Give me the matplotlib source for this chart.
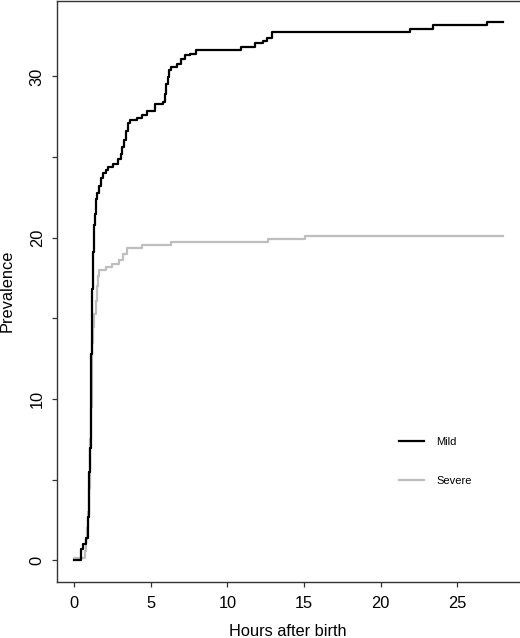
import matplotlib
matplotlib.use("Agg")
import matplotlib.pyplot as plt

plt.rcParams['font.family'] = ['Liberation Sans', 'DejaVu Sans']

# Mild prevalence step curve (hours after birth, prevalence)
mild_t = [0, 0.47, 0.59, 0.76, 0.91, 0.95, 0.99, 1.03, 1.07, 1.09, 1.11,
          1.13, 1.15, 1.17, 1.19, 1.22, 1.25, 1.28, 1.32, 1.36, 1.40, 1.45,
          1.52, 1.60, 1.74, 1.90, 2.10, 2.22,
          2.54, 2.87, 3.05, 3.15, 3.26, 3.37, 3.48, 3.63, 4.07, 4.40, 4.72,
          5.26, 5.80, 5.92, 6.00, 6.09, 6.20, 6.30, 6.68, 7.00, 7.22, 7.55,
          7.98, 10.9, 11.8, 12.3, 12.6, 12.9, 21.94, 23.4, 26.94, 28.0]
mild_v = [0, 0.7, 1.03, 1.39, 2.72, 4.0, 5.5, 7.0, 8.7, 10.0, 11.4,
          12.8, 14.2, 15.6, 16.8, 18.0, 19.1, 20.0, 20.8, 21.5, 22.0, 22.4,
          22.8, 23.2, 23.7, 24.0, 24.2, 24.4,
          24.6, 24.9, 25.2, 25.6, 26.05, 26.6, 27.1, 27.3, 27.45, 27.6, 27.85,
          28.26, 28.4, 28.9, 29.5, 29.97, 30.4, 30.6, 30.8, 31.07, 31.3, 31.42,
          31.62, 31.83, 32.05, 32.2, 32.4, 32.75, 32.96, 33.2, 33.37, 33.37]

# Severe prevalence step curve
severe_t = [0, 0.02, 0.70, 0.74, 0.85, 0.93, 0.98, 1.02, 1.06, 1.10, 1.14,
            1.18, 1.22, 1.30, 1.42, 1.48, 1.55, 1.63, 2.10, 2.44, 2.94, 3.20,
            3.42, 4.40, 6.35, 12.65, 15.05, 28.0]
severe_v = [0, 0.15, 0.6, 1.3, 2.0, 3.0, 4.5, 6.0, 7.5, 9.5, 11.5,
            13.5, 14.5, 15.3, 16.1, 17.0, 17.6, 18.0, 18.2, 18.4, 18.6, 19.0,
            19.35, 19.55, 19.75, 19.9, 20.1, 20.1]

series_labels = ["Mild", "Severe"]
series_colors = ["#000000", "#BEBEBE"]

x_ticks = [0, 5, 10, 15, 20, 25]
y_ticks = [0, 5, 10, 15, 20, 25, 30]
y_tick_labels = ["0", "", "10", "", "20", "", "30"]

W, H = 520, 638
fig = plt.figure(figsize=(W / 100, H / 100), dpi=100)
ax = fig.add_axes([57 / W, 1 - 582 / H, (520.5 - 57) / W, (582 - 0.5) / H])

ax.step(severe_t, severe_v, where='post', color=series_colors[1], lw=1.6,
        label=series_labels[1], zorder=2)
ax.step(mild_t, mild_v, where='post', color=series_colors[0], lw=1.6,
        label=series_labels[0], zorder=3)

xmax = max(mild_t)
ymax = max(mild_v)
ax.set_xlim(-0.04 * xmax, xmax * 1.04)
ax.set_ylim(-0.04 * ymax, ymax * 1.04)

ax.set_xticks(x_ticks)
ax.set_xticklabels([str(v) for v in x_ticks])
ax.set_yticks(y_ticks)
ax.set_yticklabels(y_tick_labels, rotation=90, va='center')

ax.tick_params(axis='both', direction='out', length=3.8, width=0.9,
               color='#333333', labelsize=11.8)
ax.tick_params(axis='x', pad=6)
ax.tick_params(axis='y', pad=5)

for s in ax.spines.values():
    s.set_linewidth(1.0)
    s.set_color('#333333')

ax.set_xlabel("Hours after birth", fontsize=11.8, va='center')
ax.xaxis.set_label_coords((287.5 - 57) / 463.5, (582 - 631.7) / 581.5)
ax.set_ylabel("Prevalence", fontsize=11.8, va='center')
ax.yaxis.set_label_coords((7.5 - 57) / 463.5, 0.5)

handles, labels = ax.get_legend_handles_labels()
order = [labels.index(l) for l in series_labels]
ax.legend([handles[i] for i in order], [labels[i] for i in order],
          loc='upper left', bbox_to_anchor=(0.7385, 0.2494), frameon=False,
          fontsize=8.0, handlelength=2.25, handletextpad=1.1,
          labelspacing=2.6, borderpad=0, borderaxespad=0)

fig.savefig("out.png", dpi=100)
